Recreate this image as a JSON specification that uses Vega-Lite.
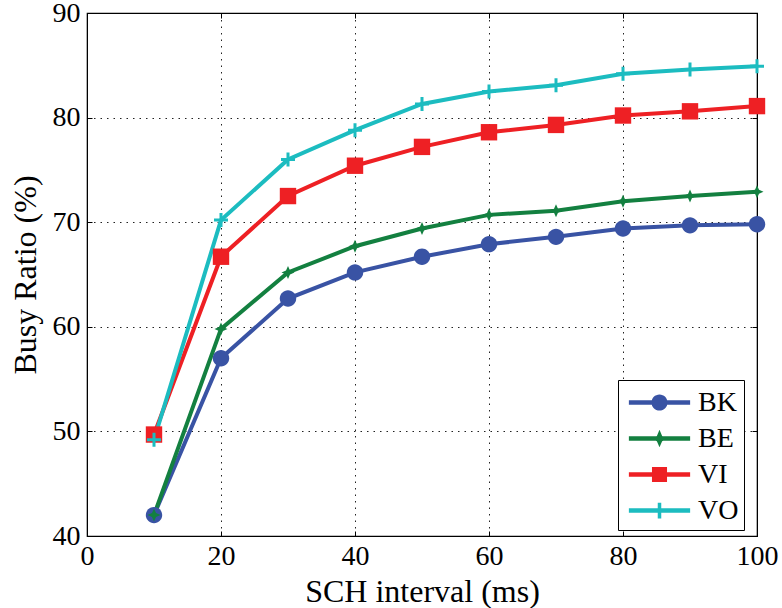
{
  "$schema": "https://vega.github.io/schema/vega-lite/v6.json",
  "width": 670,
  "height": 523,
  "autosize": {"type": "none"},
  "padding": {"left": 87, "top": 13, "right": 25, "bottom": 72},
  "background": "white",
  "config": {
    "font": "Liberation Serif",
    "view": {"stroke": "black", "strokeWidth": 1.2},
    "axis": {
      "labelFont": "Liberation Serif",
      "labelFontSize": 28,
      "labelColor": "black",
      "titleFont": "Liberation Serif",
      "titleFontSize": 32,
      "titleFontWeight": "normal",
      "titleColor": "black",
      "domainColor": "black",
      "tickColor": "black",
      "gridColor": "#222222",
      "gridDash": [1.5, 5],
      "gridWidth": 1
    }
  },
  "data": {
    "values": [
      {"x": 10, "series": "BK", "y": 42.0}, {"x": 20, "series": "BK", "y": 57.0}, {"x": 30, "series": "BK", "y": 62.7}, {"x": 40, "series": "BK", "y": 65.2}, {"x": 50, "series": "BK", "y": 66.7}, {"x": 60, "series": "BK", "y": 67.9}, {"x": 70, "series": "BK", "y": 68.6}, {"x": 80, "series": "BK", "y": 69.4}, {"x": 90, "series": "BK", "y": 69.7}, {"x": 100, "series": "BK", "y": 69.8},
      {"x": 10, "series": "BE", "y": 42.0}, {"x": 20, "series": "BE", "y": 59.8}, {"x": 30, "series": "BE", "y": 65.2}, {"x": 40, "series": "BE", "y": 67.7}, {"x": 50, "series": "BE", "y": 69.4}, {"x": 60, "series": "BE", "y": 70.7}, {"x": 70, "series": "BE", "y": 71.1}, {"x": 80, "series": "BE", "y": 72.0}, {"x": 90, "series": "BE", "y": 72.5}, {"x": 100, "series": "BE", "y": 72.9},
      {"x": 10, "series": "VI", "y": 49.7}, {"x": 20, "series": "VI", "y": 66.7}, {"x": 30, "series": "VI", "y": 72.5}, {"x": 40, "series": "VI", "y": 75.4}, {"x": 50, "series": "VI", "y": 77.2}, {"x": 60, "series": "VI", "y": 78.6}, {"x": 70, "series": "VI", "y": 79.3}, {"x": 80, "series": "VI", "y": 80.2}, {"x": 90, "series": "VI", "y": 80.6}, {"x": 100, "series": "VI", "y": 81.1},
      {"x": 10, "series": "VO", "y": 49.2}, {"x": 20, "series": "VO", "y": 70.2}, {"x": 30, "series": "VO", "y": 76.0}, {"x": 40, "series": "VO", "y": 78.8}, {"x": 50, "series": "VO", "y": 81.3}, {"x": 60, "series": "VO", "y": 82.5}, {"x": 70, "series": "VO", "y": 83.1}, {"x": 80, "series": "VO", "y": 84.2}, {"x": 90, "series": "VO", "y": 84.6}, {"x": 100, "series": "VO", "y": 84.9}
    ]
  },
  "layer": [
    {
      "mark": {"type": "line", "strokeWidth": 4},
      "encoding": {
        "x": {"field": "x", "type": "quantitative", "scale": {"domain": [0, 100], "nice": false},
              "axis": {"orient": "bottom", "values": [0, 20, 40, 60, 80, 100], "title": "SCH interval (ms)", "grid": true, "tickSize": -5, "labelPadding": 11, "titlePadding": 6, "labelFlush": false}},
        "y": {"field": "y", "type": "quantitative", "scale": {"domain": [40, 90], "nice": false, "zero": false},
              "axis": {"orient": "left", "values": [40, 50, 60, 70, 80, 90], "title": "Busy Ratio (%)", "grid": true, "tickSize": -5, "labelPadding": 12, "titlePadding": 10, "labelFlush": false}},
        "color": {"field": "series", "type": "nominal",
                  "scale": {"domain": ["BK", "BE", "VI", "VO"], "range": ["#3953A4", "#138040", "#EE2024", "#1CBCC0"]}, "legend": null},
        "detail": {"field": "series"}
      }
    },
    {
      "mark": {"type": "point", "filled": true, "size": 400, "opacity": 1, "strokeWidth": 0},
      "encoding": {
        "x": {"field": "x", "type": "quantitative", "axis": null},
        "y": {"field": "y", "type": "quantitative", "axis": null},
        "color": {"field": "series", "type": "nominal",
                  "scale": {"domain": ["BK", "BE", "VI", "VO"], "range": ["#3953A4", "#138040", "#EE2024", "#1CBCC0"]}, "legend": null},
        "shape": {"field": "series", "type": "nominal",
                  "scale": {"domain": ["BK", "BE", "VI", "VO"], "range": [
                    "M0.82,0A0.82,0.82 0 1,1 -0.82,0A0.82,0.82 0 1,1 0.82,0Z",
                    "M0,-0.65L0.2,-0.2L0.65,0L0.2,0.2L0,0.65L-0.2,0.2L-0.65,0L-0.2,-0.2Z",
                    "M-0.82,-0.82H0.82V0.82H-0.82Z",
                    "M-0.15,-0.7H0.15V-0.15H0.7V0.15H0.15V0.7H-0.15V0.15H-0.7V-0.15H-0.15Z"
                  ]}, "legend": null}
      }
    },
    {
      "transform": [{"filter": "datum.x < 0"}],
      "mark": {"type": "point", "filled": true, "strokeWidth": 0, "opacity": 1},
      "encoding": {
        "x": {"field": "x", "type": "quantitative",
              "axis": {"orient": "top", "values": [0, 20, 40, 60, 80, 100], "labels": false, "title": null, "grid": false, "tickSize": -5}},
        "y": {"field": "y", "type": "quantitative",
              "axis": {"orient": "right", "values": [40, 50, 60, 70, 80, 90], "labels": false, "title": null, "grid": false, "tickSize": -5}},
        "color": {"field": "series", "type": "nominal",
                  "scale": {"domain": ["BK", "BE", "VI", "VO"], "range": ["#3953A4", "#138040", "#EE2024", "#1CBCC0"]},
                  "legend": {"title": null, "orient": "none", "legendX": 531, "legendY": 367,
                             "symbolSize": 1225, "symbolStrokeWidth": 0, "symbolOpacity": 1, "symbolOffset": 19,
                             "labelFont": "Liberation Serif", "labelFontSize": 28, "labelColor": "black", "labelOffset": 21,
                             "rowPadding": 4, "padding": 5, "strokeColor": "black", "fillColor": "white", "offset": 0}},
        "shape": {"field": "series", "type": "nominal",
                  "scale": {"domain": ["BK", "BE", "VI", "VO"], "range": [
                    "M-1.75,-0.13H1.75V0.13H-1.75Z M0.46,0A0.46,0.46 0 1,1 -0.46,0A0.46,0.46 0 1,1 0.46,0Z",
                    "M-1.75,-0.13H1.75V0.13H-1.75Z M0,-0.5L0.15,-0.15L0.5,0L0.15,0.15L0,0.5L-0.15,0.15L-0.5,0L-0.15,-0.15Z",
                    "M-1.75,-0.13H1.75V0.13H-1.75Z M-0.43,-0.43H0.43V0.43H-0.43Z",
                    "M-1.75,-0.13H1.75V0.13H-1.75Z M-0.1,-0.45H0.1V0.45H-0.1Z"
                  ]},
                  "legend": {"title": null, "orient": "none", "legendX": 531, "legendY": 367,
                             "symbolSize": 1225, "symbolStrokeWidth": 0, "symbolOpacity": 1, "symbolOffset": 19,
                             "labelFont": "Liberation Serif", "labelFontSize": 28, "labelColor": "black", "labelOffset": 21,
                             "rowPadding": 4, "padding": 5, "strokeColor": "black", "fillColor": "white", "offset": 0}}
      }
    }
  ],
  "resolve": {"scale": {"shape": "independent", "color": "independent"}, "axis": {"x": "independent", "y": "independent"}}
}
